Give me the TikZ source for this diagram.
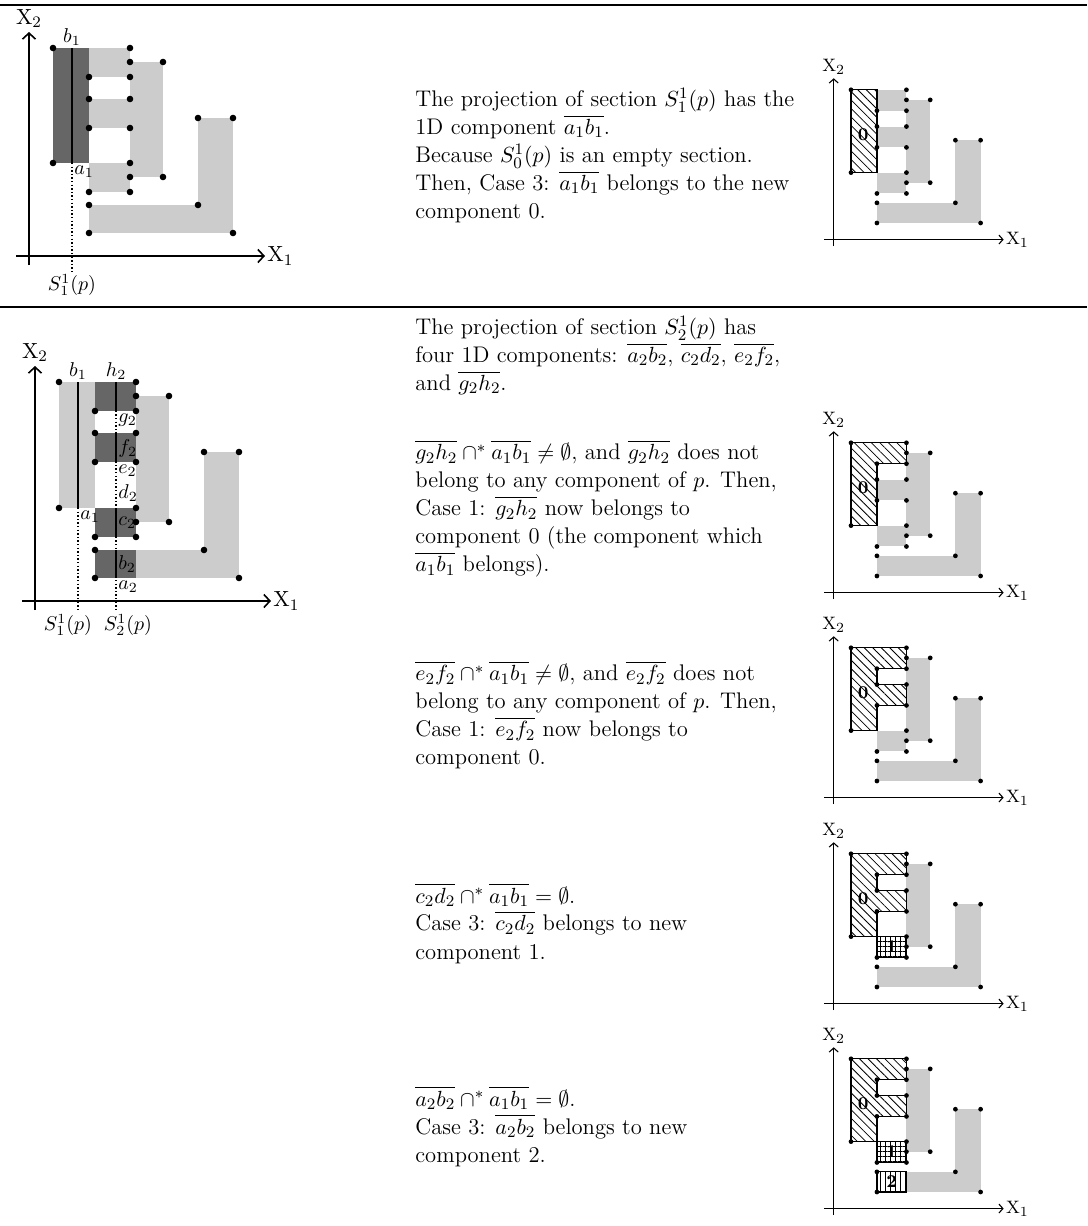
\documentclass[tikz,border=0pt]{standalone}
\usepackage{amsmath}
\usepackage{tikz}
\usetikzlibrary{arrows.meta, patterns.meta}

\newcommand{\uplift}{0}
% light grey parts of the polygon
\newcommand{\polylight}{%
  \fill[light] (36,156+\uplift) rectangle (77,185+\uplift);
  \fill[light] (36,105+\uplift) rectangle (77,134+\uplift);
  \fill[light] (36,41) rectangle (77,70);
  \fill[light] (77,56) rectangle (110,171+\uplift);
  \fill[light] (36,0) rectangle (180,28);
  \fill[light] (145,0) rectangle (180,115+\uplift);
}
% vertices of the polygon
\newcommand{\polydots}{%
  \foreach \x/\y in {0/185+\uplift, 77/185+\uplift, 77/171+\uplift, 110/171+\uplift,
      36/156+\uplift, 77/156+\uplift, 36/134+\uplift, 77/134+\uplift,
      36/105+\uplift, 77/105+\uplift, 0/70, 77/70, 110/56, 77/56, 36/41, 77/41,
      36/28, 145/28, 145/115+\uplift, 180/115+\uplift, 36/0, 180/0}
    \fill (\x,\y) circle (3.3);
}
% axes X1, X2
\newcommand{\drawaxes}[1]{%
  \draw[axis] (-37,-23) -- (212,-23);
  \draw[axis] (-24,-32) -- (-24,201+\uplift);
  \node[xlbl, anchor=west] (#1x1) at (212,-23) {$\mathrm{X}_1$};
  \node[xlbl, anchor=south] (#1x2) at (-24,203+\uplift) {$\mathrm{X}_2$};
}

\begin{document}
\begin{tikzpicture}[
    x=0.5pt, y=-0.5pt,
    light/.style={fill=black!20},
    dark/.style={fill=black!60},
    sect/.style={line width=1.3pt},
    proj/.style={line width=0.7pt, dash pattern=on 0.7pt off 1.1pt},
    axis/.style={-{Straight Barb[length=3pt,width=6.5pt]}, line width=0.8pt},
    xlbl/.style={font=\fontsize{11}{13}\selectfont, inner sep=1pt},
    lbl/.style={font=\fontsize{10}{12}\selectfont, inner sep=1pt},
    comp/.style={draw, fill=white, line width=0.7pt},
    comp0/.style={comp, postaction={pattern={Lines[angle=-45,distance=3pt,line width=0.4pt]}}},
    comp1/.style={comp, postaction={pattern={Hatch[angle=0,distance=2.5pt,line width=0.35pt]}}},
    comp2/.style={comp, postaction={pattern={Lines[angle=90,distance=2.5pt,line width=0.35pt]}}},
    cnum/.style={font=\bfseries\fontsize{9}{10}\selectfont, inner sep=0pt},
    txt/.style={anchor=north west, align=left, inner sep=0pt, font=\fontsize{11.3}{14}\selectfont},
    rule/.style={line width=1pt},
    small/.style={shift={#1}, yscale=-1, scale=0.72,
      axis/.style={-{Straight Barb[length=2pt,width=4.5pt]}, line width=0.55pt},
      xlbl/.style={font=\fontsize{9.5}{11}\selectfont, inner sep=1pt},
      comp/.style={draw, fill=white, line width=0.6pt}},
]
\useasboundingbox (0,0) rectangle (1087,1226);

% table rules
\draw[rule] (0,5) -- (1087,5);
\draw[rule] (0,307) -- (1087,307);

% Row 1: section S_1^1(p)
\begin{scope}[shift={(53,233)}, yscale=-1]
  \fill[dark] (0,70) rectangle (36,185);
  \polylight
  \draw[sect] (19,70) -- (19,185);
  \draw[proj] (19,70) -- (19,-39);
  \polydots
  \node[lbl, anchor=south] (tb1) at (19,185) {$b_1$};
  \node[lbl, anchor=north west] (ta1) at (19,70) {$a_1$};
  \node[lbl, anchor=north] (ts11) at (19,-39) {$S_1^1(p)$};
  \drawaxes{t}
\end{scope}

\node[txt] (sec1) at (415,88) {The projection of section $S_1^1(p)$ has the\\
  1D component $\overline{a_1b_1}$.\\
  Because $S_0^1(p)$ is an empty section.\\
  Then, Case 3: $\overline{a_1b_1}$ belongs to the new\\
  component 0.};

\begin{scope}[small={(851,223)}]
  \polylight
  \path[comp0] (0,70) rectangle (36,185);
  \polydots
  \node[cnum] (ra0) at (17,123) {0};
  \drawaxes{ra}
\end{scope}

% Row 2: section S_2^1(p)
\begin{scope}[shift={(59,578)}, yscale=-1]
  \renewcommand{\uplift}{11}
  \fill[light] (0,70) rectangle (36,196);
  \polylight
  \fill[dark] (36,167) rectangle (77,196);
  \fill[dark] (36,116) rectangle (77,145);
  \fill[dark] (36,41) rectangle (77,70);
  \fill[dark] (36,0) rectangle (77,28);
  \draw[proj] (19,70) -- (19,-34);
  \draw[proj] (57,196) -- (57,-34);
  \draw[sect] (19,70) -- (19,196);
  \foreach \ya/\yb in {167/196, 116/145, 41/70, 0/28}
    \draw[sect] (57,\ya) -- (57,\yb);
  \polydots
  \node[lbl, anchor=south] (mb1) at (19,196) {$b_1$};
  \node[lbl, anchor=south] (mh2) at (57,196) {$h_2$};
  \node[lbl, anchor=north west] (mg2) at (57,167) {$g_2$};
  \node[lbl, anchor=west] (mf2) at (57,130) {$f_2$};
  \node[lbl, anchor=north west] (me2) at (57,116) {$e_2$};
  \node[lbl, anchor=south west] (md2) at (57,74) {$d_2$};
  \node[lbl, anchor=west] (mc2) at (57,55) {$c_2$};
  \node[lbl, anchor=west] (mb2) at (57,14) {$b_2$};
  \node[lbl, anchor=north west] (ma2) at (57,0) {$a_2$};
  \node[lbl, anchor=north west] (ma1) at (19,70) {$a_1$};
  \node[lbl, anchor=north] (ms11) at (9,-34) {$S_1^1(p)$};
  \node[lbl, anchor=north] (ms21) at (69,-34) {$S_2^1(p)$};
  \drawaxes{m}
\end{scope}

\node[txt] (sec2) at (415,316) {The projection of section $S_2^1(p)$ has\\
  four 1D components: $\overline{a_2b_2}$, $\overline{c_2d_2}$, $\overline{e_2f_2}$,\\
  and $\overline{g_2h_2}$.};

\node[txt] (gh) at (415,440) {$\overline{g_2h_2}\cap^*\overline{a_1b_1}\neq\emptyset$, and $\overline{g_2h_2}$ does not\\
  belong to any component of $p$. Then,\\
  Case 1: $\overline{g_2h_2}$ now belongs to\\
  component 0 (the component which\\
  $\overline{a_1b_1}$ belongs).};

\begin{scope}[small={(851,576)}]
  \polylight
  \path[comp0] (0,70) -- (0,185) -- (77,185) -- (77,156) -- (36,156) -- (36,70) -- cycle;
  \polydots
  \node[cnum] (rb0) at (17,123) {0};
  \drawaxes{rb}
\end{scope}

\node[txt] (ef) at (415,661) {$\overline{e_2f_2}\cap^*\overline{a_1b_1}\neq\emptyset$, and $\overline{e_2f_2}$ does not\\
  belong to any component of $p$. Then,\\
  Case 1: $\overline{e_2f_2}$ now belongs to\\
  component 0.};

\begin{scope}[small={(851,781)}]
  \polylight
  \path[comp0] (0,70) -- (0,185) -- (77,185) -- (77,156) -- (36,156) -- (36,134)
    -- (77,134) -- (77,105) -- (36,105) -- (36,70) -- cycle;
  \polydots
  \node[cnum] (rc0) at (17,123) {0};
  \drawaxes{rc}
\end{scope}

\node[txt] (cd) at (415,883) {$\overline{c_2d_2}\cap^*\overline{a_1b_1}=\emptyset$.\\
  Case 3: $\overline{c_2d_2}$ belongs to new\\
  component 1.};

\begin{scope}[small={(851,987)}]
  \polylight
  \path[comp0] (0,70) -- (0,185) -- (77,185) -- (77,156) -- (36,156) -- (36,134)
    -- (77,134) -- (77,105) -- (36,105) -- (36,70) -- cycle;
  \path[comp1] (36,41) rectangle (77,70);
  \polydots
  \node[cnum] (rd0) at (17,123) {0};
  \node[cnum] (rd1) at (56.5,55.5) {1};
  \drawaxes{rd}
\end{scope}

\node[txt] (ab) at (415,1086) {$\overline{a_2b_2}\cap^*\overline{a_1b_1}=\emptyset$.\\
  Case 3: $\overline{a_2b_2}$ belongs to new\\
  component 2.};

\begin{scope}[small={(851,1192)}]
  \polylight
  \path[comp0] (0,70) -- (0,185) -- (77,185) -- (77,156) -- (36,156) -- (36,134)
    -- (77,134) -- (77,105) -- (36,105) -- (36,70) -- cycle;
  \path[comp1] (36,41) rectangle (77,70);
  \path[comp2] (36,0) rectangle (77,28);
  \polydots
  \node[cnum] (re0) at (17,123) {0};
  \node[cnum] (re1) at (56.5,55.5) {1};
  \node[cnum] (re2) at (56.5,14) {2};
  \drawaxes{re}
\end{scope}

\end{tikzpicture}
\end{document}
